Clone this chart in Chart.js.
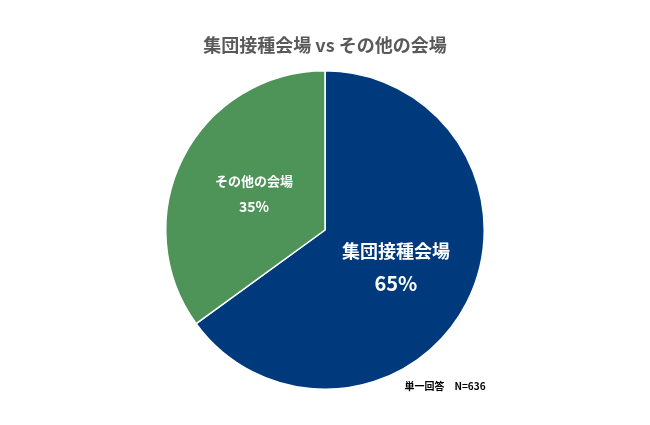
<!DOCTYPE html>
<html>
<head>
<meta charset="utf-8">
<script src="https://cdn.jsdelivr.net/npm/chart.js@4"></script>
<style>
  body { margin: 0; background: #fff; }
  #wrap { width: 650px; height: 425px; }
</style>
</head>
<body>
<div id="wrap"><canvas id="pie"></canvas></div>
<script>
const categories = ["集団接種会場", "その他の会場"];
const values = [65, 35];
const colors = ["#003A7D", "#4E9459"];
const titleText = "集団接種会場 vs その他の会場";
const noteText = "単一回答　N=636";

const FONT = "'Noto Sans CJK JP', 'Noto Sans', sans-serif";

// slice labels, title and footnote
const labelPlugin = {
  id: "labels",
  afterDatasetsDraw(chart) {
    const ctx = chart.ctx;
    const meta = chart.getDatasetMeta(0);
    ctx.save();
    ctx.textAlign = "center";
    ctx.textBaseline = "middle";
    ctx.fillStyle = "#fff";
    meta.data.forEach((arc, i) => {
      const mid = (arc.startAngle + arc.endAngle) / 2;
      const r = arc.outerRadius * 0.5;
      const x = arc.x + Math.cos(mid) * r;
      const y = arc.y + Math.sin(mid) * r;
      const big = i === 0;
      ctx.font = `bold ${big ? 18 : 13}px ${FONT}`;
      ctx.fillText(categories[i], x, y - (big ? 15 : 13));
      ctx.font = `bold ${big ? 20 : 14}px ${FONT}`;
      ctx.fillText(values[i] + "%", x, y + (big ? 17 : 13));
    });
    ctx.fillStyle = "#595959";
    ctx.font = `bold 18px ${FONT}`;
    ctx.fillText(titleText, 325, 45);
    ctx.fillStyle = "#000";
    ctx.font = `bold 10px ${FONT}`;
    ctx.fillText(noteText, 445, 386);
    ctx.restore();
  }
};

new Chart(document.getElementById("pie"), {
  type: "pie",
  data: {
    labels: categories,
    datasets: [{
      data: values,
      backgroundColor: colors,
      borderColor: "#fff",
      borderWidth: 1.5
    }]
  },
  options: {
    responsive: true,
    maintainAspectRatio: false,
    animation: false,
    layout: { padding: { top: 70, bottom: 35, left: 0, right: 0 } },
    plugins: {
      legend: { display: false },
      tooltip: { enabled: false }
    }
  },
  plugins: [labelPlugin]
});
</script>
</body>
</html>
